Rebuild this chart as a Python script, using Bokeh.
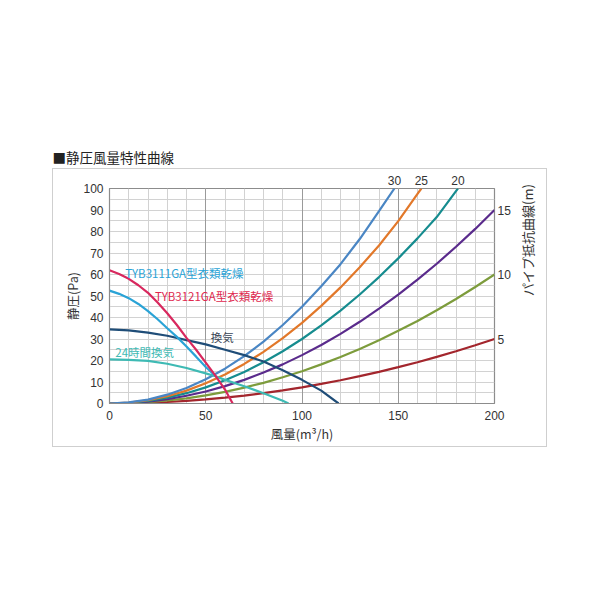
import math
from bokeh.plotting import figure
from bokeh.models import (LinearAxis, Range1d, FixedTicker, SingleIntervalTicker,
                          Grid, InlineStyleSheet)
from bokeh.core.properties import value
from bokeh.embed import file_html
from bokeh.resources import INLINE

JP = "Noto Sans CJK JP"
NUM = "Liberation Sans"

# pipe resistance curves, 0..200 m3/h
pipe_x = [0, 10, 20, 30, 40, 50, 60, 70, 80, 90, 100,
          110, 120, 130, 140, 150, 160, 170, 180, 190, 200]
pipe_5m = [0, 0.1, 0.3, 0.7, 1.2, 1.9, 2.7, 3.7, 4.8, 6.1, 7.5,
           9.1, 10.8, 12.7, 14.7, 16.9, 19.2, 21.7, 24.3, 27.1, 30]
pipe_10m = [0, 0.2, 0.6, 1.4, 2.4, 3.8, 5.4, 7.4, 9.6, 12.2, 15,
            18.2, 21.6, 25.4, 29.4, 33.8, 38.4, 43.4, 48.6, 54.2, 60]
pipe_15m = [0, 0.2, 0.9, 2.0, 3.6, 5.6, 8.1, 11, 14.4, 18.2, 22.5,
            27.2, 32.4, 38, 44.1, 50.6, 57.6, 65, 72.9, 81.2, 90]
pipe_20m_x = [0, 10, 20, 30, 40, 50, 60, 70, 80, 90, 100,
              110, 120, 130, 140, 150, 160, 170, 180, 181]
pipe_20m = [0, 0.3, 1.2, 2.7, 4.8, 7.5, 10.8, 14.7, 19.2, 24.3, 30,
            36.3, 43.2, 50.7, 58.8, 67.5, 76.8, 86.7, 98.8, 100]
pipe_25m_x = [0, 10, 20, 30, 40, 50, 60, 70, 80, 90, 100,
              110, 120, 130, 140, 150, 160, 162]
pipe_25m = [0, 0.4, 1.5, 3.4, 6, 9.4, 13.5, 18.4, 24, 30.4, 37.5,
            45.4, 54, 63.4, 73.5, 84.8, 97.5, 100]
pipe_30m_x = [0, 10, 20, 30, 40, 50, 60, 70, 80, 90, 100,
              110, 120, 130, 140, 148]
pipe_30m = [0, 0.5, 1.8, 4.1, 7.2, 11.3, 16.2, 22, 28.8, 36.5, 45,
            54.5, 64.8, 76.5, 89.5, 100]

# fan curves
tyb3121_x = [0, 5, 10, 15, 20, 25, 30, 35, 40, 45, 50, 55, 60, 64]
tyb3121_y = [62, 60.2, 58, 55, 51.5, 47, 42, 36.5, 30.5, 25, 19, 13, 6.5, 0]
tyb3111_x = [0, 5, 10, 15, 20, 25, 30, 35, 40, 45, 50, 55]
tyb3111_y = [52.5, 51, 49, 46.3, 43, 39.2, 35, 31, 26.5, 21.8, 17, 12.8]
kanki_x = [0, 10, 20, 30, 40, 50, 60, 70, 80, 90, 100, 110, 119]
kanki_y = [34.5, 34, 33, 31.5, 29.5, 27.5, 25, 22.5, 19.5, 15.5, 11, 6, 0]
h24_x = [0, 10, 20, 30, 40, 50, 55, 60, 70, 80, 90, 93]
h24_y = [20.5, 20.3, 19.8, 18.5, 16.5, 14, 12.7, 11, 8, 4.8, 1.3, 0]

pipe_curves = [
    (pipe_x, pipe_5m, "#a3262d"),
    (pipe_x, pipe_10m, "#7d9c3c"),
    (pipe_x, pipe_15m, "#5a2b8c"),
    (pipe_20m_x, pipe_20m, "#168c8f"),
    (pipe_25m_x, pipe_25m, "#e2782a"),
    (pipe_30m_x, pipe_30m, "#4a86c4"),
]
fan_curves = [
    (h24_x, h24_y, "#3ebab4"),
    (kanki_x, kanki_y, "#1f4d78"),
    (tyb3111_x, tyb3111_y, "#2aa3d6"),
    (tyb3121_x, tyb3121_y, "#d8285e"),
]

right_ticks = [30, 60, 90]
right_labels = {30: "5", 60: "10", 90: "15"}
top_ticks = [pipe_30m_x[-1], pipe_25m_x[-1], pipe_20m_x[-1]]
top_labels = {pipe_30m_x[-1]: "30", pipe_25m_x[-1]: "25", pipe_20m_x[-1]: "20"}

# light grey box drawn round the chart area (page pixels)
box_css = InlineStyleSheet(css="""
:host::after {
  content: "";
  position: absolute;
  left: 52px; top: 168px; width: 493px; height: 277px;
  border: 1.5px solid #cfcfcf;
  pointer-events: none;
}
""")

p = figure(frame_width=385, frame_height=215,
           min_border_left=109, min_border_right=106,
           min_border_top=188, min_border_bottom=197,
           x_range=Range1d(0, 200), y_range=Range1d(0, 100),
           output_backend="svg", toolbar_location=None, tools="",
           stylesheets=[box_css])
p.background_fill_color = "white"
p.border_fill_color = "white"
p.outline_line_color = "#8c8c8c"
p.outline_line_width = 1.2

p.title.text = "■静圧風量特性曲線"
p.title.align = "left"
p.title.offset = -57
p.title.text_font = JP
p.title.text_font_size = "13.5px"
p.title.text_font_style = "normal"
p.title.text_color = "#222222"
p.title.standoff = 12

# grids
p.xgrid.ticker = SingleIntervalTicker(interval=10)
p.ygrid.ticker = SingleIntervalTicker(interval=5)
p.xgrid.grid_line_color = "#d2d2d2"
p.ygrid.grid_line_color = "#d2d2d2"
p.add_layout(Grid(dimension=0, ticker=FixedTicker(ticks=[50, 100, 150]),
                  grid_line_color="#9a9a9a"))

for ax in (p.xaxis, p.yaxis):
    ax.major_tick_line_color = None
    ax.minor_tick_line_color = None
    ax.major_tick_out = 0
    ax.axis_line_color = "#8c8c8c"
    ax.major_label_text_font = NUM
    ax.major_label_text_font_size = "12px"
    ax.major_label_text_color = "#333333"
    ax.axis_label_text_font = JP
    ax.axis_label_text_font_size = "12.5px"
    ax.axis_label_text_font_style = "normal"
    ax.axis_label_text_color = "#333333"
p.xaxis.ticker = FixedTicker(ticks=[0, 50, 100, 150, 200])
p.yaxis.ticker = FixedTicker(ticks=list(range(0, 101, 10)))
p.xaxis.major_label_standoff = 7
p.yaxis.major_label_standoff = 6
p.xaxis.axis_label = "風量(m³/h)"
p.yaxis.axis_label = "静圧(Pa)"
p.xaxis.axis_label_standoff = 1
p.yaxis.axis_label_standoff = -2

right = LinearAxis(ticker=FixedTicker(ticks=right_ticks),
                   major_label_overrides=right_labels,
                   axis_label="パイプ抵抗曲線(m)",
                   axis_label_orientation=math.pi / 2)
above = LinearAxis(ticker=FixedTicker(ticks=top_ticks),
                   major_label_overrides=top_labels)
for ax in (right, above):
    ax.axis_line_color = None
    ax.major_tick_line_color = None
    ax.minor_tick_line_color = None
    ax.major_tick_out = 0
    ax.major_label_text_font = NUM
    ax.major_label_text_font_size = "12px"
    ax.major_label_text_color = "#333333"
right.major_label_standoff = 3
above.major_label_standoff = 4
right.axis_label_text_font = JP
right.axis_label_text_font_size = "13px"
right.axis_label_text_font_style = "normal"
right.axis_label_text_color = "#333333"
right.axis_label_standoff = 14
p.add_layout(right, "right")
p.add_layout(above, "above")

for xs, ys, c in pipe_curves:
    p.line(xs, ys, line_color=c, line_width=2.2)
for xs, ys, c in fan_curves:
    p.line(xs, ys, line_color=c, line_width=2.2)

curve_labels = [
    ("TYB3111GA型衣類乾燥", 8.2, 60.5, "#2aa3d6"),
    ("TYB3121GA型衣類乾燥", 23.6, 50, "#e0284e"),
    ("換気", 52.6, 30.7, "#3a4656"),
    ("24時間換気", 3, 24, "#3ebab4"),
]
for t, x, y, c in curve_labels:
    p.text([x], [y], text=[t], text_color=c, text_font=value(JP),
           text_font_size="11.5px", text_baseline="middle", text_align="left")

open("out.html", "w").write(file_html(p, INLINE))
